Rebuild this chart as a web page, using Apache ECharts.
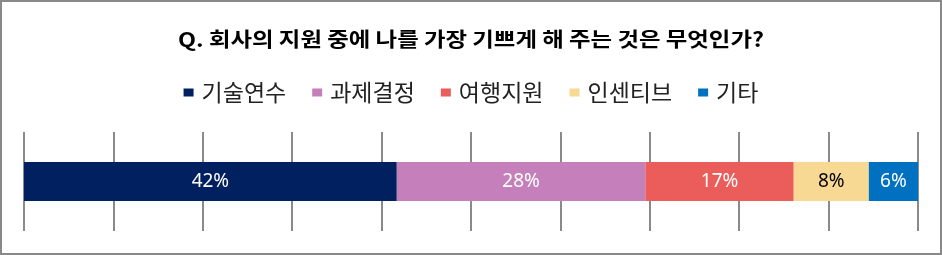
<!DOCTYPE html>
<html><head><meta charset="utf-8">
<script src="https://cdn.jsdelivr.net/npm/echarts@6/dist/echarts.min.js"></script>
<style>
html,body{margin:0;padding:0;background:#fff;}
#c{width:942px;height:255px;box-sizing:border-box;border:2px solid #898989;}
</style></head>
<body><div id="c"></div>
<script>
const titleText = 'Q. 회사의 지원 중에 나를 가장 기쁘게 해 주는 것은 무엇인가?';
const categories = ['Q'];
const seriesNames = ['기술연수', '과제결정', '여행지원', '인센티브', '기타'];
const seriesValues = [41.7, 27.8, 16.6, 8.4, 5.5];
const seriesLabels = ['42%', '28%', '17%', '8%', '6%'];
const colors = ['#002060', '#c580bb', '#ea5d5a', '#f7d993', '#0070c0'];
const labelColors = ['#ffffff', '#ffffff', '#ffffff', '#000000', '#ffffff'];

const chart = echarts.init(document.getElementById('c'));
chart.setOption({
  animation: false,
  graphic: [{
    type: 'text', x: 469, y: 37, scaleX: 1.17,
    style: {text: titleText, fontFamily: 'Noto Sans CJK KR', fontSize: 20, fontWeight: 'bold',
      fill: '#000', align: 'center', verticalAlign: 'middle'}
  }],
  legend: {
    top: 74, left: 'center', itemWidth: 10, itemHeight: 8, itemGap: 26, icon: 'rect',
    textStyle: {fontFamily: 'Noto Sans CJK KR', fontSize: 23, color: '#222', padding: [0, 0, 0, 3]},
    data: seriesNames
  },
  grid: {left: 22, right: 22, top: 130, height: 99},
  xAxis: {
    type: 'value', min: 0, max: 100, interval: 10,
    axisLabel: {show: false}, axisLine: {show: false}, axisTick: {show: false},
    splitLine: {show: true, lineStyle: {color: '#8a8a8a', width: 2}}
  },
  yAxis: {type: 'category', data: categories, show: false},
  series: seriesNames.map((n, i) => ({
    name: n, type: 'bar', stack: 'a', barWidth: 39,
    itemStyle: {color: colors[i]},
    label: {show: true, position: 'inside', formatter: () => seriesLabels[i],
      color: labelColors[i], fontFamily: 'Noto Sans', fontSize: 19},
    data: [seriesValues[i]]
  }))
});
</script></body></html>
